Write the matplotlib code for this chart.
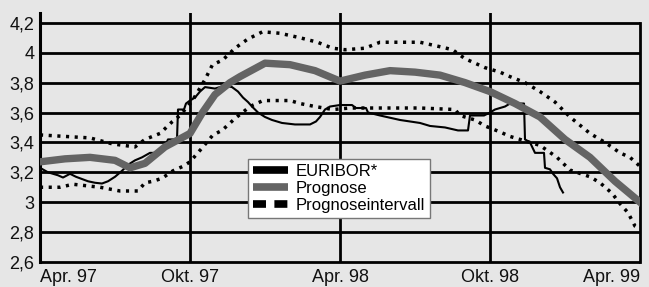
import matplotlib.pyplot as plt
from matplotlib.lines import Line2D

plt.rcParams['font.family'] = ['Liberation Sans', 'DejaVu Sans']

# Monate ab April 1997 (0 = Apr. 97, 24 = Apr. 99)
euribor_m = [0, 0.32, 0.72, 0.92, 1.2, 1.44, 1.68, 1.92, 2.2, 2.48, 2.72, 3.0, 3.28, 3.52,
             3.8, 4.08, 4.4, 4.8, 4.92, 5.12, 5.48, 5.52, 5.76, 5.84, 6.0, 6.2, 6.4, 6.6,
             7.0, 7.4, 7.68, 7.92, 8.12, 8.32, 8.48, 8.72, 9.0, 9.28, 9.68, 10.2, 10.8,
             11.04, 11.2, 11.4, 11.6, 12.0, 12.48, 12.64, 13.04, 13.12, 13.6, 14.0, 14.4,
             14.8, 15.2, 15.6, 16.2, 16.72, 17.12, 17.2, 17.76, 18.0, 18.2, 18.4, 18.6,
             18.8, 19.36, 19.4, 19.6, 19.8, 20.16, 20.2, 20.4, 20.52, 20.68, 20.8, 20.92]
euribor_v = [3.23, 3.20, 3.18, 3.165, 3.19, 3.17, 3.155, 3.14, 3.13, 3.125, 3.14, 3.17, 3.21, 3.25,
             3.28, 3.30, 3.33, 3.33, 3.35, 3.42, 3.42, 3.62, 3.62, 3.66, 3.68, 3.70, 3.74, 3.77,
             3.76, 3.78, 3.77, 3.74, 3.70, 3.67, 3.64, 3.60, 3.57, 3.55, 3.53, 3.52, 3.52,
             3.54, 3.57, 3.62, 3.64, 3.65, 3.65, 3.63, 3.63, 3.60, 3.58, 3.565, 3.55,
             3.54, 3.53, 3.51, 3.50, 3.48, 3.48, 3.58, 3.58, 3.60, 3.62, 3.63, 3.64,
             3.66, 3.66, 3.42, 3.40, 3.33, 3.33, 3.23, 3.22, 3.19, 3.16, 3.10, 3.065]

prognose_m = [0, 1, 2, 3, 3.6, 4.2, 5, 6, 6.5, 7, 7.6, 8, 9, 10, 11, 12, 13, 14, 15, 16,
              17, 18, 19, 20, 21, 22, 23, 24]
prognose_v = [3.27, 3.29, 3.30, 3.28, 3.23, 3.26, 3.37, 3.46, 3.60, 3.72, 3.80, 3.84, 3.93,
              3.92, 3.88, 3.81, 3.85, 3.88, 3.87, 3.85, 3.80, 3.74, 3.66, 3.57, 3.42, 3.30,
              3.14, 3.00]

oben_m = [0, 1, 2, 2.9, 3.8, 4.2, 4.5, 4.8, 5.3, 5.6, 6.1, 6.6, 6.9, 7.3, 7.8, 8.3, 8.9, 9.6,
          10.4, 11.1, 11.7, 12.2, 13.0, 13.6, 15.2, 16.0, 16.5, 17.0, 17.8, 18.4, 18.8,
          19.4, 20.0, 20.6, 21.2, 22.0, 22.6, 23.2, 23.6, 24.0]
oben_v = [3.45, 3.44, 3.43, 3.39, 3.37, 3.42, 3.44, 3.46, 3.54, 3.58, 3.68, 3.82, 3.92, 3.95,
          4.03, 4.09, 4.14, 4.13, 4.10, 4.07, 4.03, 4.02, 4.03, 4.07, 4.07, 4.04, 4.02, 3.96,
          3.90, 3.87, 3.84, 3.80, 3.74, 3.67, 3.57, 3.46, 3.40, 3.33, 3.30, 3.24]

unten_m = [0, 0.8, 1.32, 2.4, 3.2, 3.92, 4.2, 4.52, 4.88, 5.32, 5.72, 6.0, 6.52, 6.92, 7.28,
           7.8, 8.4, 8.92, 10.0, 10.4, 11.0, 11.72, 12.4, 15.2, 16.6, 16.8, 17.4, 17.8,
           18.4, 18.8, 19.2, 20.0, 20.68, 21.2, 22.0, 22.4, 22.88, 23.2, 23.52, 23.8, 24.0]
unten_v = [3.10, 3.10, 3.12, 3.10, 3.075, 3.075, 3.13, 3.14, 3.16, 3.21, 3.24, 3.27, 3.37,
           3.45, 3.48, 3.56, 3.64, 3.68, 3.68, 3.66, 3.64, 3.62, 3.63, 3.63, 3.62, 3.58,
           3.55, 3.51, 3.47, 3.44, 3.42, 3.38, 3.30, 3.215, 3.17, 3.13, 3.06, 2.99, 2.93,
           2.84, 2.82]

yticks = [2.6, 2.8, 3.0, 3.2, 3.4, 3.6, 3.8, 4.0, 4.2]
ylabels = ['2,6', '2,8', '3', '3,2', '3,4', '3,6', '3,8', '4', '4,2']
xticks = [0, 6, 12, 18, 24]
xlabels = ['Apr. 97', 'Okt. 97', 'Apr. 98', 'Okt. 98', 'Apr. 99']

bg = '#e6e6e6'
grau = '#646464'

fig = plt.figure(figsize=(6.49, 2.87), dpi=100, facecolor=bg)
ax = fig.add_axes([40 / 649, 25 / 287, 600 / 649, 249 / 287])
ax.set_facecolor(bg)
ax.set_xlim(0, 24)
ax.set_ylim(2.6, 2.6 + 249 * 0.2 / 29.9)

# Rahmen und Gitter
for s in ['top', 'right', 'bottom']:
    ax.spines[s].set_visible(False)
ax.spines['left'].set_linewidth(2.2)
for y in yticks:
    ax.plot([0, 24], [y, y], color='black', lw=2, zorder=1, clip_on=False,
            solid_capstyle='butt')
for x in xticks[1:-1]:
    ax.axvline(x, color='black', lw=2, zorder=1)
ax.plot([24, 24], [2.6, 4.2], color='black', lw=2, zorder=1, clip_on=False)

# Kurven
ax.plot(euribor_m, euribor_v, color='black', lw=1.5, zorder=3)
ax.plot(prognose_m, prognose_v, color=grau, lw=5.3, zorder=4, solid_joinstyle='round')
ax.plot(oben_m, oben_v, color='black', lw=2.5, ls=(0, (0.9, 1.6)), zorder=5)
ax.plot(unten_m, unten_v, color='black', lw=2.5, ls=(0, (0.9, 1.6)), zorder=5)

ax.set_yticks(yticks)
ax.set_yticklabels(ylabels)
ax.set_xticks(xticks)
ax.set_xticklabels(xlabels)
ax.tick_params(length=0, labelsize=13, colors='#111111')
ax.tick_params(axis='y', pad=4)
ax.tick_params(axis='x', pad=5)
lab = ax.get_xticklabels()
lab[0].set_ha('left')
lab[-1].set_ha('right')

# Legende
handles = [Line2D([], [], color='black', lw=5.5, solid_capstyle='butt'),
           Line2D([], [], color=grau, lw=5.5, solid_capstyle='butt'),
           Line2D([], [], color='black', lw=5.5, ls=(0, (1.7, 1.1)), dash_capstyle='butt')]
leg = ax.legend(handles, ['EURIBOR*', 'Prognose', 'Prognoseintervall'],
                loc='upper left', bbox_to_anchor=(0.347, 0.414), borderaxespad=0,
                fontsize=12, handlelength=2.1, handletextpad=0.45, labelspacing=0.12,
                borderpad=0.3, fancybox=False, framealpha=1, edgecolor='#777777')
leg.get_frame().set_linewidth(1)
leg.set_zorder(10)

fig.savefig('out.png', dpi=100, facecolor=bg)
